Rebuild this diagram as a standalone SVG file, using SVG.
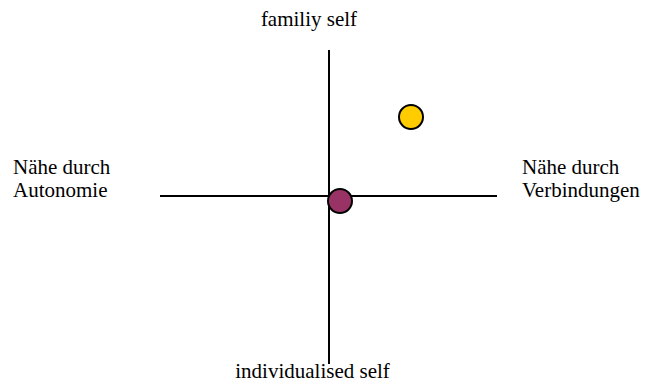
<svg xmlns="http://www.w3.org/2000/svg" width="646" height="383" viewBox="0 0 646 383">
<style>
.ax{stroke:#000;stroke-width:2;fill:none}
.dot{stroke:#000;stroke-width:2}
</style>
<rect width="646" height="383" fill="#fff"/>
<g id="connectors">
<line class="ax" x1="329" y1="50" x2="329" y2="364"/>
<line class="ax" x1="160" y1="196" x2="497" y2="196"/>
</g>
<g font-family="'Liberation Serif', 'Times New Roman', 'DejaVu Serif', serif" font-size="21" fill="#000">
<g id="top-label"><text x="309" y="26" text-anchor="middle">familiy self</text></g>
<g id="bottom-label"><text x="312.5" y="378" text-anchor="middle">individualised self</text></g>
<g id="left-label"><text x="13" y="174">Nähe durch</text><text x="13" y="197">Autonomie</text></g>
<g id="right-label"><text x="522" y="174">Nähe durch</text><text x="522" y="197">Verbindungen</text></g>
</g>
<g id="yellow-dot"><circle class="dot" cx="411" cy="117" r="12" fill="#FFCC00"/></g>
<g id="purple-dot"><circle class="dot" cx="340" cy="201" r="12" fill="#993366"/></g>
</svg>
